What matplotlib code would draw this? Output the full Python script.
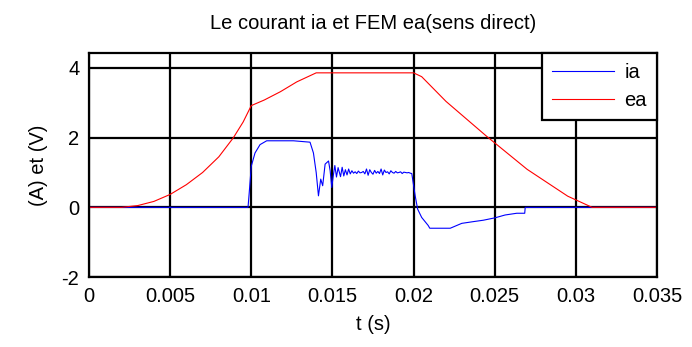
import numpy as np
import matplotlib
matplotlib.use('Agg')
import matplotlib.pyplot as plt

plt.rcParams['font.family'] = ['Liberation Sans', 'DejaVu Sans']
plt.rcParams['axes.unicode_minus'] = False

# FEM ea (V)
t_ea = [0, 0.002, 0.003, 0.004, 0.005, 0.006, 0.007, 0.008, 0.0089, 0.0095,
        0.010, 0.0108, 0.0118, 0.0128, 0.0140, 0.0200, 0.0205, 0.022, 0.0245,
        0.027, 0.0295, 0.031, 0.035]
ea = [0, 0, 0.05, 0.17, 0.37, 0.65, 1.0, 1.45, 2.0, 2.45,
      2.92, 3.08, 3.32, 3.6, 3.86, 3.86, 3.75, 3.04, 2.04,
      1.09, 0.32, 0.0, 0.0]

# courant ia (A)
t_ia = [0, 0.0098, 0.00987, 0.0100, 0.01023, 0.01054, 0.01095, 0.0126, 0.01362,
        0.01383, 0.0140, 0.01414, 0.01428, 0.01440, 0.01455, 0.01476, 0.01486,
        0.01496, 0.01505, 0.01515, 0.01525, 0.01535,
        0.0155, 0.0156, 0.0157, 0.0158, 0.0159, 0.0160, 0.0161, 0.0162, 0.0163,
        0.0164, 0.0165, 0.0166, 0.0167, 0.0168, 0.0169, 0.0170, 0.0171, 0.0172,
        0.0173, 0.0174, 0.0175, 0.0176, 0.0177, 0.0178, 0.0179, 0.0180, 0.0181,
        0.0182, 0.0183, 0.0184, 0.0185, 0.0186, 0.0187, 0.0188, 0.0189, 0.0190,
        0.0191, 0.0192, 0.0193, 0.0194, 0.0195, 0.0196, 0.0197, 0.0198, 0.01989,
        0.0201, 0.02025, 0.0205, 0.0209, 0.0210, 0.02226, 0.02297, 0.02369,
        0.0243, 0.02503, 0.02564, 0.02636, 0.02685, 0.02688, 0.035]
ia = [0, 0, 0.4, 1.18, 1.56, 1.8, 1.91, 1.91, 1.87,
      1.56, 1.0, 0.33, 0.81, 0.62, 1.24, 1.33, 1.05,
      0.57, 0.9, 1.2, 0.87, 1.14,
      0.88, 1.15, 0.9, 1.08, 0.93, 1.1, 0.96, 1.05, 0.98,
      1.02, 0.97, 1.04, 0.99, 1.0, 1.03, 0.96, 1.1, 0.92,
      1.08, 1.0, 0.95, 1.06, 0.98, 1.03, 0.97, 1.1, 0.93,
      1.07, 1.0, 1.02, 0.96, 1.05, 1.0, 0.98, 1.03, 0.99,
      1.0, 1.02, 0.97, 1.01, 1.0, 0.99, 1.0, 0.98, 0.97,
      0.33, -0.05, -0.29, -0.52, -0.6, -0.6, -0.46, -0.41,
      -0.37, -0.3, -0.22, -0.17, -0.17, 0.0, 0.0]

fs = 14.5

fig = plt.figure(figsize=(6.92, 3.47), dpi=100)
ax = fig.add_axes([0.1286, 0.2017, 0.8208, 0.6456])

ax.plot(t_ia, ia, color='blue', lw=0.8, label='ia')
ax.plot(t_ea, ea, color='red', lw=0.8, label='ea')

ax.set_xlim(0, 0.035)
ax.set_ylim(-2, 4.43)
ax.set_xticks(np.arange(0, 0.0351, 0.005))
ax.set_xticklabels(['0', '0.005', '0.01', '0.015', '0.02', '0.025', '0.03', '0.035'])
ax.set_yticks([-2, 0, 2, 4])
ax.tick_params(length=0, labelsize=fs, pad=7)
ax.grid(True, color='black', lw=1.6)
ax.set_axisbelow(True)
for s in ax.spines.values():
    s.set_linewidth(1.6)

ax.set_title('Le courant ia et FEM ea(sens direct)', fontsize=fs, pad=17)
ax.set_xlabel('t (s)', fontsize=fs, labelpad=7)
ax.set_ylabel('(A) et (V)', fontsize=fs, labelpad=10)

leg = ax.legend(loc='upper right', borderaxespad=0, fontsize=fs, fancybox=False,
                framealpha=1, edgecolor='black', handlelength=3.1, handletextpad=0.5,
                borderpad=0.5, labelspacing=0.45)
leg.get_frame().set_linewidth(1.6)

fig.savefig('out.png', dpi=100)
